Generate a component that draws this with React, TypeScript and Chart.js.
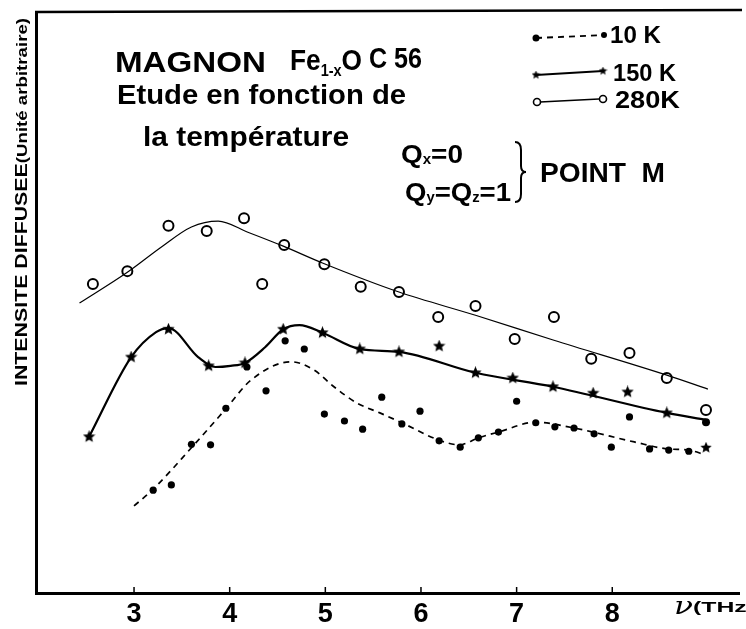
import React, { useEffect, useRef } from "react";
import { Chart, registerables } from "chart.js";
Chart.register(...registerables);

// ---- axis ----
const xMin = 1.975;
const xMax = 9.325;
const xTickValues = [3, 4, 5, 6, 7, 8];

// ---- 280 K (open circles) ----
const k280X = [2.57, 2.93, 3.36, 3.76, 4.15, 4.34, 4.57, 4.99, 5.37, 5.77, 6.18, 6.57, 6.98, 7.39, 7.78, 8.18, 8.57, 8.98];
const k280Y = [53.2, 55.4, 63.2, 62.3, 64.5, 53.2, 59.9, 56.6, 52.7, 51.8, 47.5, 49.4, 43.7, 47.5, 40.3, 41.3, 37.0, 31.5];
const k280FitX = [2.43, 2.93, 3.29, 3.6, 3.88, 4.19, 4.56, 4.97, 5.77, 6.57, 7.39, 8.57, 9.0];
const k280FitY = [49.9, 55.2, 59.6, 63.0, 64.0, 62.1, 59.7, 56.8, 51.8, 47.8, 43.5, 37.5, 35.1];

// ---- 150 K (stars) ----
const k150X = [2.53, 2.97, 3.36, 3.78, 4.16, 4.56, 4.97, 5.36, 5.77, 6.19, 6.57, 6.96, 7.38, 7.8, 8.16, 8.57, 8.98];
const k150Y = [26.9, 40.6, 45.4, 39.1, 39.6, 45.4, 44.8, 42.0, 41.5, 42.5, 37.9, 37.0, 35.5, 34.4, 34.6, 31.0, 29.4];
const k150FitX = [2.53, 2.97, 3.23, 3.36, 3.67, 3.85, 4.01, 4.16, 4.37, 4.56, 4.73, 4.97, 5.36, 5.77, 6.57, 7.38, 8.57, 8.98];
const k150FitY = [26.9, 40.6, 44.9, 45.6, 40.6, 38.9, 39.1, 39.6, 42.3, 45.4, 46.1, 44.8, 42.0, 41.5, 37.9, 35.5, 31.0, 29.8];

// ---- 10 K (filled dots) ----
const k10X = [3.2, 3.39, 3.6, 3.8, 3.96, 4.18, 4.38, 4.58, 4.78, 4.99, 5.2, 5.39, 5.59, 5.8, 5.99, 6.19, 6.41, 6.6, 6.81, 7.0, 7.2, 7.4, 7.6, 7.81, 7.99, 8.18, 8.39, 8.59, 8.8, 8.98];
const k10Y = [17.7, 18.6, 25.6, 25.5, 31.8, 38.9, 34.8, 43.4, 42.0, 30.8, 29.6, 28.2, 33.7, 29.1, 31.3, 26.2, 25.1, 26.7, 27.7, 33.0, 29.3, 28.6, 28.4, 27.4, 25.1, 30.3, 24.8, 24.6, 24.4, 25.0];
const k10FitX = [3.0, 3.19, 3.6, 3.96, 4.22, 4.64, 4.88, 5.09, 5.33, 5.57, 5.8, 6.19, 6.4, 6.6, 6.81, 7.2, 7.6, 8.23, 8.58, 8.8, 8.97];
const k10FitY = [15.0, 17.7, 25.0, 31.7, 36.6, 39.8, 38.4, 35.5, 32.7, 31.0, 29.3, 26.3, 25.5, 26.7, 27.7, 29.4, 28.4, 26.0, 24.8, 24.6, 23.8];

const pts = (xs: number[], ys: number[]) => xs.map((x, i) => ({ x, y: ys[i] }));

function makeStar(size: number) {
  const c = document.createElement("canvas");
  c.width = size;
  c.height = size;
  const ctx = c.getContext("2d")!;
  const cx = size / 2, cy = size / 2, R = size / 2, r = R * 0.45;
  ctx.beginPath();
  for (let i = 0; i < 10; i++) {
    const a = -Math.PI / 2 + (i * Math.PI) / 5;
    const rad = i % 2 === 0 ? R : r;
    ctx.lineTo(cx + rad * Math.cos(a), cy + rad * Math.sin(a));
  }
  ctx.closePath();
  ctx.fillStyle = "#000";
  ctx.fill();
  return c;
}

const FAM = "'Liberation Sans', Arial, sans-serif";

type Part = { t: string; size: number; dy?: number; font?: string };

function drawParts(ctx: CanvasRenderingContext2D, parts: Part[], x: number, baseline: number, width?: number) {
  ctx.save();
  ctx.fillStyle = "#000";
  ctx.textAlign = "left";
  ctx.textBaseline = "alphabetic";
  const fontOf = (p: Part) => p.font || `bold ${p.size}px ${FAM}`;
  let total = 0;
  const ws = parts.map((p) => {
    ctx.font = fontOf(p);
    const w = ctx.measureText(p.t).width;
    total += w;
    return w;
  });
  ctx.translate(x, baseline);
  if (width) ctx.scale(width / total, 1);
  let cx = 0;
  parts.forEach((p, i) => {
    ctx.font = fontOf(p);
    ctx.fillText(p.t, cx, p.dy || 0);
    cx += ws[i];
  });
  ctx.restore();
}

const decorPlugin = {
  id: "decor",
  afterDraw(chart: any) {
    const ctx: CanvasRenderingContext2D = chart.ctx;
    const { left, top, bottom } = chart.chartArea;
    const xs = chart.scales.x;
    ctx.save();
    ctx.strokeStyle = "#000";
    // top frame
    ctx.lineWidth = 2.5;
    ctx.beginPath();
    ctx.moveTo(left - 1, top);
    ctx.lineTo(742, top - 2);
    ctx.stroke();
    // tick marks inside
    ctx.lineWidth = 1.5;
    xTickValues.forEach((v) => {
      const px = xs.getPixelForValue(v);
      ctx.beginPath();
      ctx.moveTo(px, bottom);
      ctx.lineTo(px, bottom - 6);
      ctx.stroke();
    });
    ctx.restore();

    // y title
    ctx.save();
    ctx.translate(27, 386);
    ctx.rotate(-Math.PI / 2);
    drawParts(ctx, [
      { t: "INTENSITE DIFFUSEE", size: 16 },
      { t: "(Unité arbitraire)", size: 14 },
    ], 0, 0, 368);
    ctx.restore();

    // x axis unit
    drawParts(ctx, [{ t: "ν", size: 24, font: `italic 24px 'DejaVu Serif', serif` }], 674, 614, 19);
    drawParts(ctx, [{ t: "(THz)", size: 15 }], 693, 612, 62);

    // title block
    drawParts(ctx, [{ t: "MAGNON", size: 30 }], 115, 72, 151);
    drawParts(ctx, [
      { t: "Fe", size: 29 },
      { t: "1-x", size: 16, dy: 6 },
      { t: "O", size: 29 },
    ], 290, 70, 72);
    drawParts(ctx, [{ t: "C 56", size: 29 }], 369, 68, 53);
    drawParts(ctx, [{ t: "Etude en fonction de", size: 28 }], 117, 104, 289);
    drawParts(ctx, [{ t: "la température", size: 28 }], 143, 146, 206);

    // Q labels
    drawParts(ctx, [
      { t: "Q", size: 26 },
      { t: "x", size: 14, dy: 1 },
      { t: "=0", size: 26 },
    ], 401, 163, 62);
    drawParts(ctx, [
      { t: "Q", size: 26 },
      { t: "y", size: 14, dy: 1 },
      { t: "=", size: 26 },
      { t: "Q", size: 26 },
      { t: "z", size: 14, dy: 1 },
      { t: "=1", size: 26 },
    ], 405, 201, 106);
    // brace
    ctx.save();
    ctx.strokeStyle = "#000";
    ctx.lineWidth = 2;
    ctx.beginPath();
    const bx = 515, by0 = 142, by1 = 202, bm = (by0 + by1) / 2;
    ctx.moveTo(bx, by0);
    ctx.quadraticCurveTo(bx + 6, by0, bx + 6, by0 + 8);
    ctx.lineTo(bx + 6, bm - 6);
    ctx.quadraticCurveTo(bx + 6, bm, bx + 11, bm);
    ctx.quadraticCurveTo(bx + 6, bm, bx + 6, bm + 6);
    ctx.lineTo(bx + 6, by1 - 8);
    ctx.quadraticCurveTo(bx + 6, by1, bx, by1);
    ctx.stroke();
    ctx.restore();
    drawParts(ctx, [{ t: "POINT  M", size: 27 }], 540, 182, 125);

    // legend
    ctx.save();
    ctx.strokeStyle = "#000";
    ctx.fillStyle = "#000";
    // 10 K
    ctx.lineWidth = 1.8;
    ctx.setLineDash([6, 5]);
    ctx.beginPath();
    ctx.moveTo(536, 38);
    ctx.lineTo(604, 35);
    ctx.stroke();
    ctx.setLineDash([]);
    ctx.beginPath();
    ctx.arc(536, 38, 3.5, 0, Math.PI * 2);
    ctx.fill();
    ctx.beginPath();
    ctx.arc(604, 35, 3, 0, Math.PI * 2);
    ctx.fill();
    // 150 K
    ctx.lineWidth = 2;
    ctx.beginPath();
    ctx.moveTo(536, 75);
    ctx.lineTo(603, 71);
    ctx.stroke();
    const st = makeStar(9);
    ctx.drawImage(st, 536 - 4.5, 75 - 4.5);
    ctx.drawImage(st, 603 - 4.5, 71 - 4.5);
    // 280 K
    ctx.lineWidth = 1.3;
    ctx.beginPath();
    ctx.moveTo(540, 102);
    ctx.lineTo(599, 99);
    ctx.stroke();
    ctx.lineWidth = 1.6;
    ctx.beginPath();
    ctx.arc(537, 102, 3.5, 0, Math.PI * 2);
    ctx.stroke();
    ctx.beginPath();
    ctx.arc(603, 99, 3.5, 0, Math.PI * 2);
    ctx.stroke();
    ctx.restore();
    drawParts(ctx, [{ t: "10 K", size: 23 }], 610, 43, 51);
    drawParts(ctx, [{ t: "150 K", size: 23 }], 613, 81, 63);
    drawParts(ctx, [{ t: "280K", size: 23 }], 615, 108, 65);
  },
};

export default function App() {
  const ref = useRef<HTMLCanvasElement>(null);
  useEffect(() => {
    document.body.style.margin = "0";
    const star = makeStar(13);
    const star10 = makeStar(12);
    const n150 = k150X.length;
    const n10 = k10X.length;
    const chart = new Chart(ref.current!, {
      type: "scatter",
      data: {
        datasets: [
          {
            label: "280K",
            data: pts(k280X, k280Y),
            showLine: false,
            pointStyle: "circle",
            pointRadius: 5,
            pointBorderWidth: 2,
            pointBorderColor: "#000",
            pointBackgroundColor: "rgba(0,0,0,0)",
          },
          {
            label: "150 K",
            data: pts(k150X, k150Y),
            showLine: false,
            pointStyle: k150X.map((_, i) => (i === n150 - 1 ? "circle" : star)) as any,
            pointRadius: k150X.map((_, i) => (i === n150 - 1 ? 4 : 6.5)),
            pointBorderWidth: 0,
            pointBackgroundColor: "#000",
            pointBorderColor: "#000",
          },
          {
            label: "10 K",
            data: pts(k10X, k10Y),
            showLine: false,
            pointStyle: k10X.map((_, i) => (i === n10 - 1 ? star10 : "circle")) as any,
            pointRadius: k10X.map((_, i) => (i === n10 - 1 ? 6 : 3.6)),
            pointBorderWidth: 0,
            pointBackgroundColor: "#000",
            pointBorderColor: "#000",
          },
          {
            label: "280K fit",
            data: pts(k280FitX, k280FitY),
            showLine: true,
            pointRadius: 0,
            borderColor: "#000",
            borderWidth: 1.2,
            cubicInterpolationMode: "monotone",
          },
          {
            label: "150K fit",
            data: pts(k150FitX, k150FitY),
            showLine: true,
            pointRadius: 0,
            borderColor: "#000",
            borderWidth: 2.2,
            cubicInterpolationMode: "monotone",
          },
          {
            label: "10K fit",
            data: pts(k10FitX, k10FitY),
            showLine: true,
            pointRadius: 0,
            borderColor: "#000",
            borderWidth: 1.7,
            borderDash: [6, 5],
            cubicInterpolationMode: "monotone",
          },
        ],
      },
      options: {
        animation: false,
        responsive: false,
        layout: { padding: { left: 36, top: 12, right: 0, bottom: 0 } },
        plugins: {
          legend: { display: false },
          tooltip: { enabled: false },
        },
        scales: {
          x: {
            type: "linear",
            min: xMin,
            max: xMax,
            afterBuildTicks: (s: any) => {
              s.ticks = xTickValues.map((v) => ({ value: v }));
            },
            afterFit: (s: any) => {
              s.height = 36;
            },
            grid: { display: false, drawTicks: false },
            border: { display: true, color: "#000", width: 3 },
            ticks: {
              color: "#000",
              padding: 8,
              font: { family: FAM, weight: "bold", size: 27, lineHeight: 1 },
              callback: (v: any) => String(v),
            },
          },
          y: {
            min: 0,
            max: 100,
            afterFit: (s: any) => {
              s.width = 0;
            },
            grid: { display: false, drawTicks: false },
            border: { display: true, color: "#000", width: 3 },
            ticks: { display: false },
          },
        },
      },
      plugins: [decorPlugin],
    });
    return () => chart.destroy();
  }, []);
  return (
    <canvas
      ref={ref}
      width={746}
      height={629}
      style={{ position: "absolute", left: 0, top: 0, display: "block" }}
    />
  );
}
